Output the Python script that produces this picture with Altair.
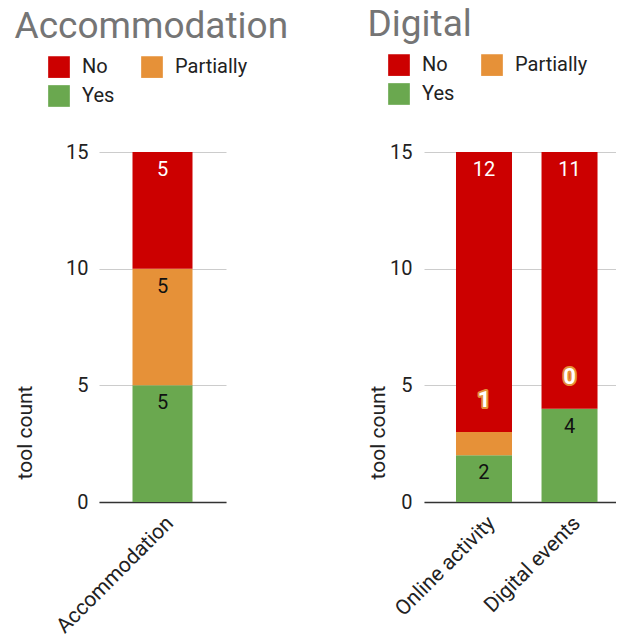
import altair as alt
import pandas as pd

# ---- data ----
ACC_ITEMS = ["Accommodation"]
ACC_NO = [5]
ACC_PARTIAL = [5]
ACC_YES = [5]

DIG_ITEMS = ["Online activity", "Digital events"]
DIG_NO = [12, 11]
DIG_PARTIAL = [1, 0]
DIG_YES = [2, 4]

STATUS = ["No", "Partially", "Yes"]
COLORS = {"No": "#cc0000", "Partially": "#e69138", "Yes": "#6aa84f"}
# legend is filled column by column: this order gives "No  Partially / Yes"
LEGEND_ORDER = ["No", "Yes", "Partially"]
STACK_ORDER = {"Yes": 0, "Partially": 1, "No": 2}
Y_TICKS = [0, 5, 10, 15]

FONT = "Roboto"


def to_long(items, no, partial, yes):
    rows = []
    for i, it in enumerate(items):
        for s, vals in zip(STATUS, [no, partial, yes]):
            rows.append({"item": it, "status": s, "count": vals[i],
                         "order": STACK_ORDER[s]})
    return pd.DataFrame(rows)


def panel(df, items, title, width, height, bar_size, pad_inner, pad_outer, align,
          legend_x, legend_y, label_pad, title_pad, partial_outside):
    base = alt.Chart(df).transform_stack(
        stack="count", groupby=["item"], as_=["y0", "y1"],
        sort=[alt.SortField("order", order="ascending")],
    )
    x = alt.X(
        "item:N", sort=items, title=None,
        scale=alt.Scale(paddingInner=pad_inner, paddingOuter=pad_outer, align=align),
        axis=alt.Axis(labelAngle=-45, labelAlign="right", labelBaseline="top",
                      labelFontSize=21, labelFont=FONT, labelColor="#222222",
                      labelPadding=10, ticks=False, domainColor="#333333",
                      domainWidth=1.5),
    )
    y_axis = alt.Axis(values=Y_TICKS, title="tool count", titleFont=FONT,
                      titleFontSize=21, titleFontWeight="normal",
                      titleColor="#222222", titlePadding=title_pad,
                      titleY=280, titleAlign="center",
                      labelFont=FONT, labelFontSize=20, labelColor="#222222",
                      labelPadding=label_pad, ticks=False, domain=False,
                      gridColor="#cccccc")
    y = alt.Y("y0:Q", scale=alt.Scale(domain=[0, 15], nice=False), axis=y_axis)

    bars = base.mark_bar(size=bar_size).encode(
        x=x, y=y, y2="y1:Q",
        color=alt.Color(
            "status:N",
            scale=alt.Scale(domain=LEGEND_ORDER,
                            range=[COLORS[s] for s in LEGEND_ORDER]),
            legend=alt.Legend(
                title=None, orient="none", legendX=legend_x, legendY=legend_y,
                columns=2, symbolType="square", symbolSize=470,
                symbolStrokeWidth=0, labelFont=FONT, labelFontSize=20,
                labelColor="#222222", labelOffset=12, columnPadding=26,
                rowPadding=7, padding=0,
            ),
        ),
        order=alt.Order("order:Q"),
    )

    inside_filter = "datum.status != 'Partially'" if partial_outside else "true"
    inside = base.transform_filter(inside_filter).mark_text(
        font=FONT, fontSize=20, baseline="middle", dy=18,
    ).encode(
        x=alt.X("item:N", sort=items),
        y=alt.Y("y1:Q"),
        text="count:Q",
        color=alt.condition("datum.status == 'No'", alt.value("white"),
                            alt.value("#111111")),
    )
    layers = [bars, inside]
    if partial_outside:
        halo = base.transform_filter("datum.status == 'Partially'").mark_text(
            font=FONT, fontSize=22, fontWeight="bold", baseline="middle", dy=-32,
            stroke="#e69138", strokeWidth=4, strokeJoin="round", fill="#e69138",
        ).encode(x=alt.X("item:N", sort=items), y=alt.Y("y1:Q"), text="count:Q")
        top = base.transform_filter("datum.status == 'Partially'").mark_text(
            font=FONT, fontSize=22, fontWeight="bold", baseline="middle", dy=-32,
            fill="white",
        ).encode(x=alt.X("item:N", sort=items), y=alt.Y("y1:Q"), text="count:Q")
        layers += [halo, top]

    return alt.layer(*layers).properties(
        width=width, height=height,
        title=alt.TitleParams(title, anchor="start", fontSize=37, font=FONT,
                              fontWeight="normal", color="#757575", offset=10),
    )


acc_df = to_long(ACC_ITEMS, ACC_NO, ACC_PARTIAL, ACC_YES)
dig_df = to_long(DIG_ITEMS, DIG_NO, DIG_PARTIAL, DIG_YES)

left = panel(acc_df, ACC_ITEMS, "Accommodation", 127, 350, 60, 0.0, 0.0, 0.5,
             -51, -96, 11, 30, False)
right = panel(dig_df, DIG_ITEMS, "Digital", 192, 350, 56, 0.345, 0.295, 0.634,
              -36, -98, 12, 1, True)

chart = alt.hconcat(left, right, spacing=78).resolve_scale(
    color="independent"
).properties(
    padding={"left": 14, "top": 6, "right": 0, "bottom": 0},
    background="white",
).configure_view(stroke=None)

chart.save("out.html", embed_options={"renderer": "svg", "actions": False})
